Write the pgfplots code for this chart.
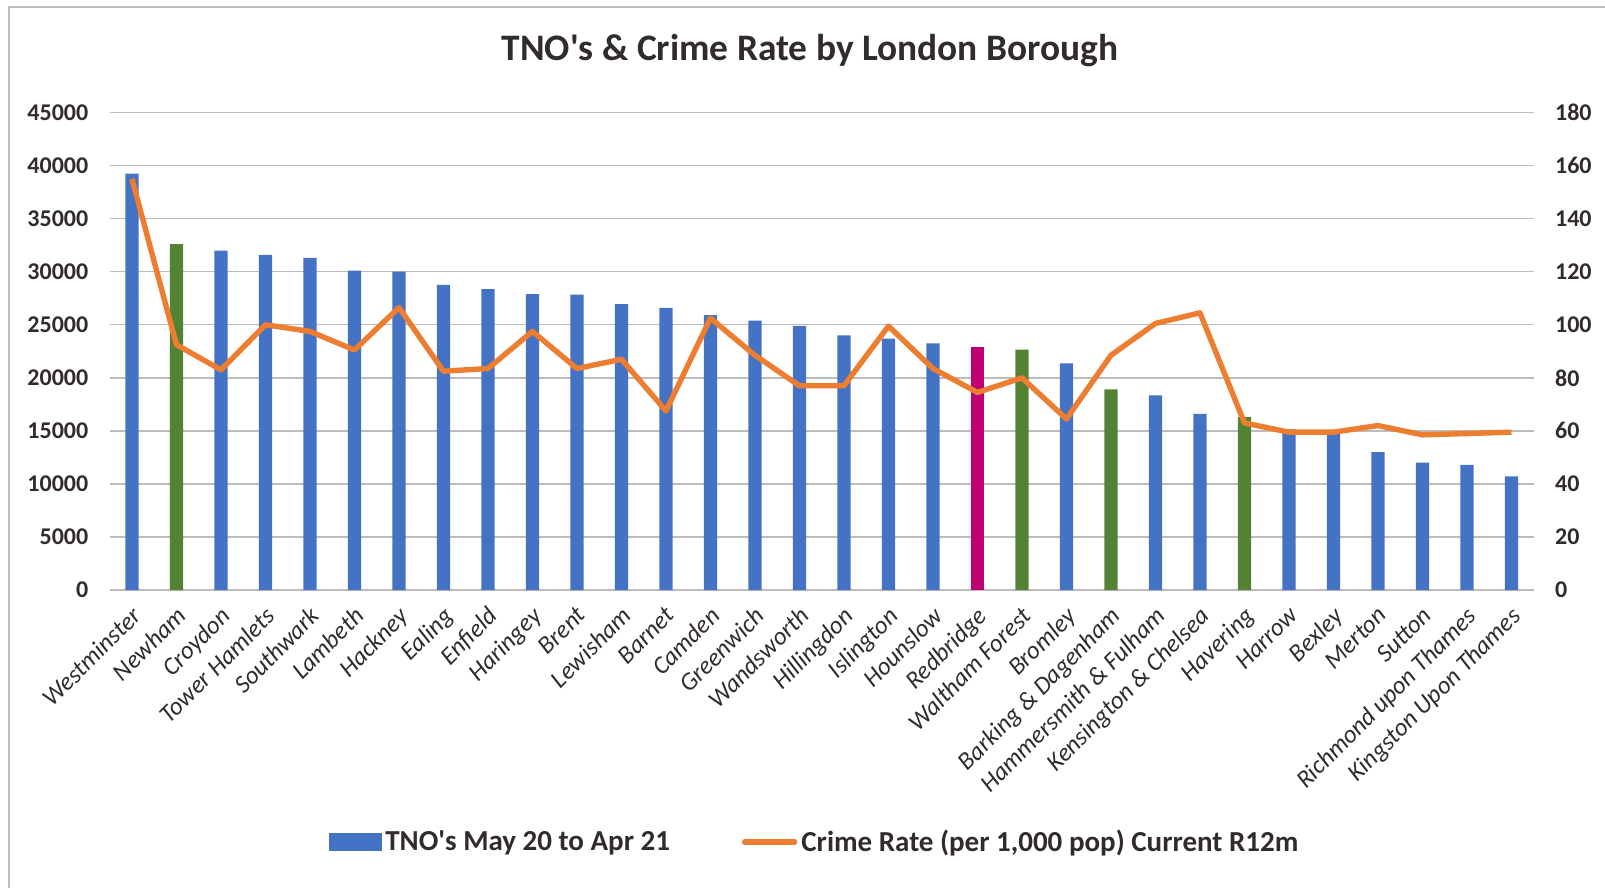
\documentclass[border=0pt]{standalone}
\usepackage{pgfplots}
\pgfplotsset{compat=1.18}
\usepackage{fontspec}
\setmainfont{Carlito}

\definecolor{barblue}{RGB}{68,114,196}
\definecolor{bargreen}{RGB}{84,130,53}
\definecolor{barpink}{RGB}{192,0,112}
\definecolor{lineorange}{RGB}{237,125,49}
\definecolor{gridc}{RGB}{191,187,187}
\definecolor{txt}{RGB}{50,43,43}

% TNO's May 20 to Apr 21 (x = borough index)
\pgfplotstableread{
x y
0 39250
2 32000
3 31600
4 31300
5 30100
6 30000
7 28750
8 28350
9 27900
10 27850
11 26950
12 26600
13 25900
14 25400
15 24900
16 24000
17 23700
18 23250
21 21350
23 18350
24 16600
26 15150
27 14900
28 13000
29 12000
30 11800
31 10700
}\tnoblue
\pgfplotstableread{
x y
1 32600
20 22650
22 18900
25 16300
}\tnogreen
\pgfplotstableread{
x y
19 22950
}\tnopink
% Crime rate per 1,000 pop, current R12m
\pgfplotstableread{
x y
0 155
1 92.5
2 83
3 100
4 97.5
5 90.5
6 106.5
7 82.5
8 83.5
9 97.5
10 83.5
11 87
12 67.5
13 102.5
14 88.5
15 77
16 77
17 99.5
18 83.5
19 74.5
20 80
21 64.5
22 88.5
23 100.5
24 104.5
25 63
26 59.5
27 59.5
28 62
29 58.5
30 59
31 59.5
}\crime

\pgfplotsset{
  common/.style={
    scale only axis, width=712pt, height=238.7pt,
    at={(0,0)}, anchor=south west,
    xmin=-0.5, xmax=31.5,
    major tick length=0pt,
    scaled y ticks=false,
    /pgf/number format/assume math mode=true,
    /pgf/number format/1000 sep={},
    yticklabel style={font=\bfseries\fontsize{12}{12}\selectfont, text=txt},
  }
}

\begin{document}
\begin{tikzpicture}
\path[use as bounding box] (-54.85pt,-149pt) rectangle (747.65pt,295pt);
\draw[gridc, line width=1pt] (-50.35pt,-149pt) -- (-50.35pt,291.5pt) -- (747.65pt,291.5pt);

\begin{axis}[common,
  ymin=0, ymax=45000, ytick distance=5000,
  axis x line*=bottom, axis y line*=left,
  y axis line style={draw=none},
  x axis line style={draw=gridc, line width=0.8pt},
  ymajorgrids, grid style={gridc, line width=0.7pt},
  xtick={0,...,31},
  xticklabels={Westminster,Newham,Croydon,Tower Hamlets,Southwark,Lambeth,Hackney,Ealing,Enfield,Haringey,Brent,Lewisham,Barnet,Camden,Greenwich,Wandsworth,Hillingdon,Islington,Hounslow,Redbridge,Waltham Forest,Bromley,Barking \& Dagenham,Hammersmith \& Fulham,Kensington \& Chelsea,Havering,Harrow,Bexley,Merton,Sutton,Richmond upon Thames,Kingston Upon Thames},
  xticklabel style={xshift=-0.7pt, yshift=-7.5pt, rotate=45, anchor=north east, inner sep=0pt,
    font=\itshape\fontsize{12.5}{12.5}\selectfont, text=txt},
  yticklabel style={anchor=east, inner sep=0pt, xshift=-10.5pt},
  ybar, bar width=6.65pt, bar shift=0pt,
]
\addplot[fill=barblue, draw=none] table {\tnoblue};
\addplot[fill=bargreen, draw=none] table {\tnogreen};
\addplot[fill=barpink, draw=none] table {\tnopink};
\end{axis}

\begin{axis}[common,
  ymin=0, ymax=180, ytick distance=20,
  axis x line=none, axis y line*=right,
  y axis line style={draw=none},
  yticklabel style={anchor=west, inner sep=0pt, xshift=10.5pt},
  legend columns=2,
  legend style={at={(0.4956,-0.528)}, anchor=center, draw=none, fill=none,
    font=\bfseries\fontsize{14.5}{16}\selectfont, text=txt,
    /tikz/every even column/.append style={column sep=34pt},
    /tikz/inner sep=0pt},
  legend cell align=left,
]
\addlegendimage{legend image code/.code={\fill[barblue] (0pt,-4.25pt) rectangle (26pt,4.25pt);}}
\addlegendentry{TNO\textquotesingle s May 20 to Apr 21}
\addplot[lineorange, line width=2.7pt, line join=round,
  legend image code/.code={\draw[lineorange, line width=2.7pt, line cap=round] (1pt,0pt) -- (26pt,0pt);}]
  table {\crime};
\addlegendentry{Crime Rate (per 1,000 pop) Current R12m}
\end{axis}

\node[font=\bfseries\fontsize{18.7}{20}\selectfont, text=txt] at (350.15pt,269.5pt) {TNO\textquotesingle s \& Crime Rate by London Borough};
\end{tikzpicture}
\end{document}
